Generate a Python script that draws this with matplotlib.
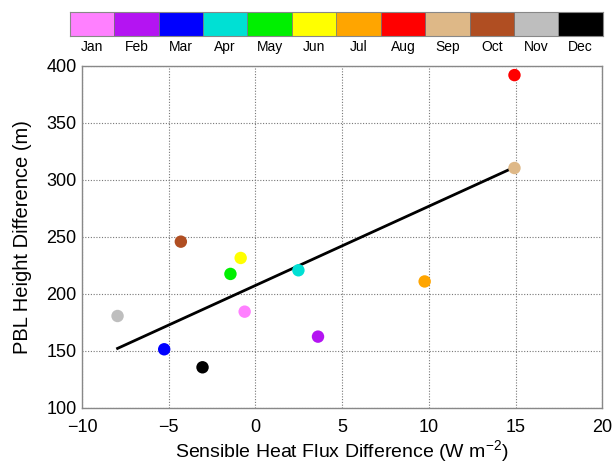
import numpy as np
import matplotlib
matplotlib.use("Agg")
import matplotlib.pyplot as plt
from matplotlib.colors import ListedColormap

plt.rcParams['font.family'] = ['Liberation Sans', 'DejaVu Sans']
plt.rcParams['mathtext.fontset'] = 'custom'
plt.rcParams['mathtext.rm'] = 'Liberation Sans'

months = ['Jan', 'Feb', 'Mar', 'Apr', 'May', 'Jun',
          'Jul', 'Aug', 'Sep', 'Oct', 'Nov', 'Dec']
month_colors = ['#FF80FF', '#B414F2', '#0000FF', '#00E0D4', '#00F000', '#FFFF00',
                '#FFA500', '#FF0000', '#DEB887', '#B04E22', '#BEBEBE', '#000000']
shf_diff = [-0.62, 3.61, -5.26, 2.48, -1.44, -0.85,
            9.76, 14.94, 14.94, -4.30, -7.95, -3.05]
pbl_diff = [184.5, 162.6, 151.5, 220.8, 217.6, 231.6,
            211.0, 392.0, 310.5, 245.9, 180.7, 135.7]

fig = plt.figure(figsize=(6.12, 4.65), dpi=100)

# month colour key
cax = fig.add_axes([0.114, 0.9226, 0.871, 0.0524])
cmap = ListedColormap(month_colors)
cax.imshow(np.arange(12)[None, :], cmap=cmap, aspect='auto',
           extent=(0, 12, 0, 1))
for i in range(1, 12):
    cax.axvline(i, color='#777777', lw=0.6)
cax.set_xticks(np.arange(12) + 0.5)
cax.set_xticklabels(months, fontsize=10)
cax.tick_params(axis='x', length=0, pad=3)
cax.set_yticks([])
for s in cax.spines.values():
    s.set_color('#888888')
    s.set_linewidth(0.8)

ax = fig.add_axes([0.134, 0.1226, 0.85, 0.7355])
x = np.array(shf_diff)
y = np.array(pbl_diff)

slope, intercept = np.polyfit(x, y, 1)
xl = np.array([x.min(), x.max()])
ax.plot(xl, slope * xl + intercept, color='black', lw=2, zorder=2)

ax.scatter(x, y, c=month_colors, s=80, edgecolors='none', zorder=3)

ax.set_xlim(-10, 20)
ax.set_ylim(100, 400)
ax.set_xticks(np.arange(-10, 21, 5))
ax.set_yticks(np.arange(100, 401, 50))
ax.set_xticklabels(['\u221210', '\u22125', '0', '5', '10', '15', '20'])
ax.tick_params(labelsize=13, length=0)
ax.tick_params(axis='x', pad=8)
ax.tick_params(axis='y', pad=4)
ax.grid(True, linestyle=(0, (1, 1.5)), color='#777777', lw=0.8, zorder=0)
for s in ax.spines.values():
    s.set_color('#888888')
    s.set_linewidth(1.0)

ax.set_xlabel(r'Sensible Heat Flux Difference (W m$^{\mathregular{-2}}$)',
              fontsize=14, labelpad=2)
ax.set_ylabel('PBL Height Difference (m)', fontsize=14.5, labelpad=10)

fig.savefig('out.png', dpi=100)
